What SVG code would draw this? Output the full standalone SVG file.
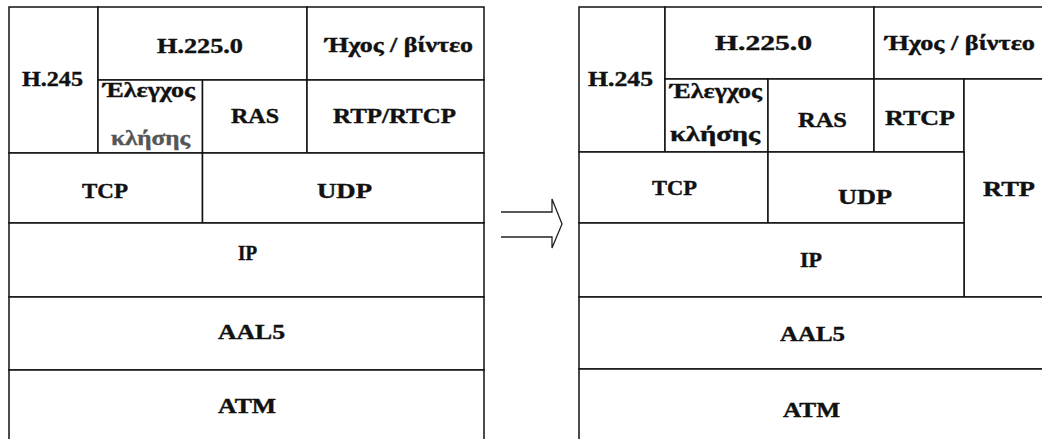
<svg xmlns="http://www.w3.org/2000/svg" width="1042" height="439" viewBox="0 0 1042 439">
<style>
.c{fill:#fff;stroke:#111;stroke-width:1.5}
.t{font-family:"Liberation Serif","Times New Roman",serif;font-weight:bold;font-size:21px;fill:#111;stroke:#111;stroke-width:0.4;text-anchor:middle}
.a{fill:none;stroke:#222;stroke-width:1.3;stroke-linejoin:miter}
</style>
<rect width="1042" height="439" fill="#fff"/>
<g id="left-stack">
<g id="l-h245"><rect class="c" x="9" y="7" width="89" height="146"/><text class="t" x="52.5" y="86" textLength="61" lengthAdjust="spacingAndGlyphs">H.245</text></g>
<g id="l-h2250"><rect class="c" x="98" y="7" width="209" height="73"/><text class="t" x="200" y="53" textLength="86" lengthAdjust="spacingAndGlyphs">H.225.0</text></g>
<g id="l-av"><rect class="c" x="307" y="7" width="177" height="73"/><text class="t" x="399" y="52" textLength="148" lengthAdjust="spacingAndGlyphs">Ήχος / βίντεο</text></g>
<g id="l-call"><rect class="c" x="98" y="80" width="104.5" height="73"/><text class="t" x="149" y="97" textLength="92" lengthAdjust="spacingAndGlyphs">Έλεγχος</text><text class="t" x="150.5" y="145" textLength="79" lengthAdjust="spacingAndGlyphs" style="fill:#555;stroke:#555">κλήσης</text></g>
<g id="l-ras"><rect class="c" x="202.5" y="80" width="104.5" height="73"/><text class="t" x="255" y="123" textLength="48" lengthAdjust="spacingAndGlyphs">RAS</text></g>
<g id="l-rtp"><rect class="c" x="307" y="80" width="177" height="73"/><text class="t" x="394.5" y="123" textLength="123" lengthAdjust="spacingAndGlyphs">RTP/RTCP</text></g>
<g id="l-tcp"><rect class="c" x="9" y="153" width="193.5" height="70"/><text class="t" x="105" y="198" textLength="46" lengthAdjust="spacingAndGlyphs">TCP</text></g>
<g id="l-udp"><rect class="c" x="202.5" y="153" width="281.5" height="70"/><text class="t" x="344.5" y="198" textLength="55" lengthAdjust="spacingAndGlyphs">UDP</text></g>
<g id="l-ip"><rect class="c" x="9" y="223" width="475" height="74"/><text class="t" x="247.5" y="260" textLength="19" lengthAdjust="spacingAndGlyphs">IP</text></g>
<g id="l-aal5"><rect class="c" x="9" y="297" width="475" height="73"/><text class="t" x="251.5" y="339" textLength="67" lengthAdjust="spacingAndGlyphs">AAL5</text></g>
<g id="l-atm"><rect class="c" x="9" y="370" width="475" height="76"/><text class="t" x="247" y="413" textLength="58" lengthAdjust="spacingAndGlyphs">ATM</text></g>
</g>
<g id="right-stack">
<g id="r-h245"><rect class="c" x="579" y="7" width="86" height="145"/><text class="t" x="620.5" y="86" textLength="65" lengthAdjust="spacingAndGlyphs">H.245</text></g>
<g id="r-h2250"><rect class="c" x="665" y="7" width="209" height="72"/><text class="t" x="763.5" y="50" textLength="97" lengthAdjust="spacingAndGlyphs">H.225.0</text></g>
<g id="r-av"><rect class="c" x="874" y="7" width="180" height="72"/><text class="t" x="960" y="50" textLength="150" lengthAdjust="spacingAndGlyphs">Ήχος / βίντεο</text></g>
<g id="r-call"><rect class="c" x="665" y="79" width="103" height="73"/><text class="t" x="716" y="98" textLength="92" lengthAdjust="spacingAndGlyphs">Έλεγχος</text><text class="t" x="715" y="141" textLength="90" lengthAdjust="spacingAndGlyphs">κλήσης</text></g>
<g id="r-ras"><rect class="c" x="768" y="79" width="106" height="73"/><text class="t" x="822.5" y="127" textLength="49" lengthAdjust="spacingAndGlyphs">RAS</text></g>
<g id="r-rtcp"><rect class="c" x="874" y="79" width="90" height="73"/><text class="t" x="920" y="125" textLength="70" lengthAdjust="spacingAndGlyphs">RTCP</text></g>
<g id="r-rtp"><rect class="c" x="964" y="79" width="90" height="218"/><text class="t" x="1009" y="196" textLength="52" lengthAdjust="spacingAndGlyphs">RTP</text></g>
<g id="r-tcp"><rect class="c" x="579" y="152" width="189" height="71"/><text class="t" x="674.5" y="195" textLength="45" lengthAdjust="spacingAndGlyphs">TCP</text></g>
<g id="r-udp"><rect class="c" x="768" y="152" width="196" height="71"/><text class="t" x="865" y="204" textLength="54" lengthAdjust="spacingAndGlyphs">UDP</text></g>
<g id="r-ip"><rect class="c" x="579" y="223" width="385" height="74"/><text class="t" x="811" y="267" textLength="22" lengthAdjust="spacingAndGlyphs">IP</text></g>
<g id="r-aal5"><rect class="c" x="579" y="297" width="475" height="72"/><text class="t" x="812.5" y="341" textLength="65" lengthAdjust="spacingAndGlyphs">AAL5</text></g>
<g id="r-atm"><rect class="c" x="579" y="369" width="475" height="77"/><text class="t" x="811.5" y="417" textLength="57" lengthAdjust="spacingAndGlyphs">ATM</text></g>
</g>
<g id="connectors">
<polyline class="a" points="501,212 552,212 552,199 562,224 552,248 552,237 501,237"/>
</g>
</svg>
